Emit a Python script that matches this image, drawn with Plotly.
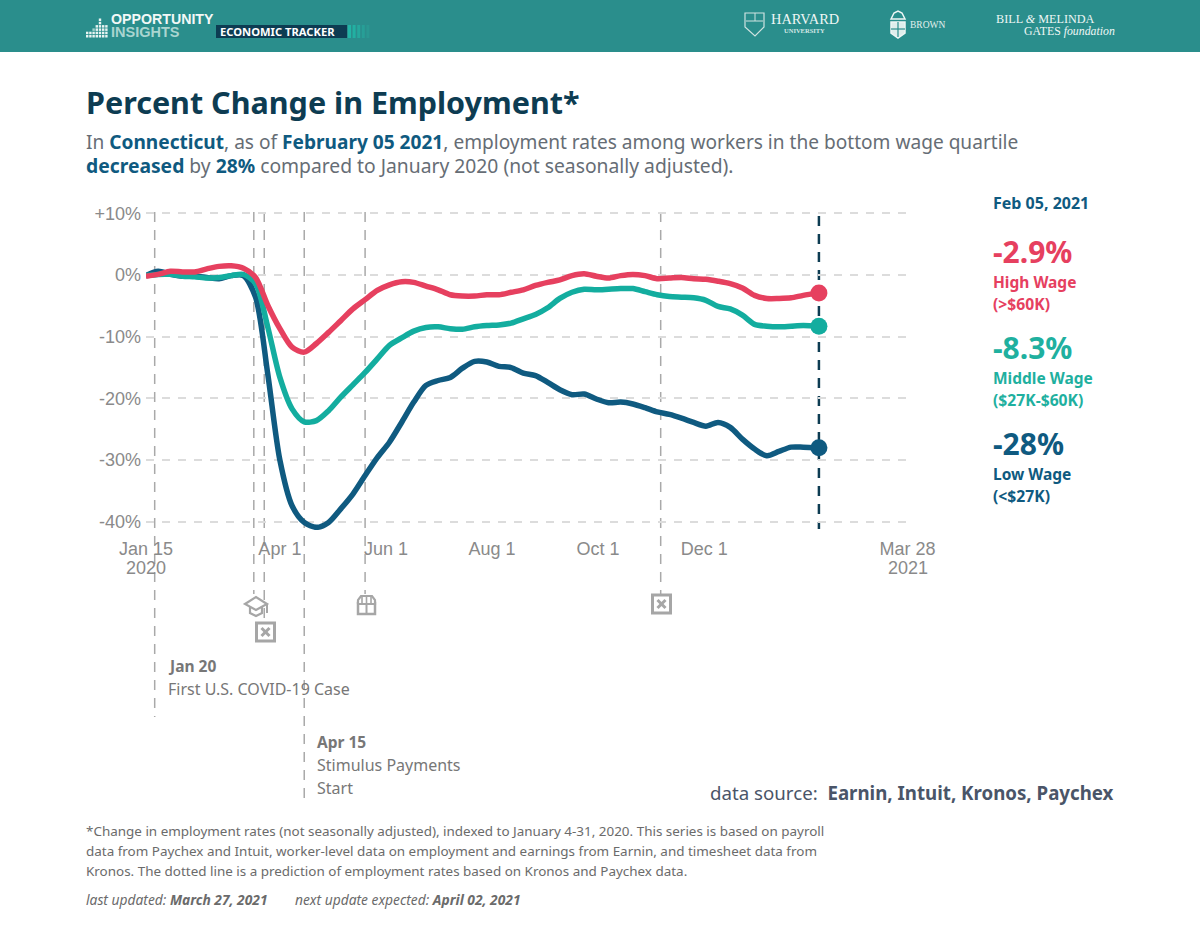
import plotly.graph_objects as go
import pandas as pd

W, H = 1200, 946
start = pd.Timestamp("2020-01-15")
week_steps = list(range(0, 55))
dates = [start + pd.Timedelta(days=7 * k) for k in week_steps] + [pd.Timestamp("2021-02-05")]

high_wage = [-0.2, 0.1, 0.6, 0.5, 0.5, 1.0, 1.4, 1.5, 1.1, -0.4, -4.9, -8.7, -11.7, -12.5, -11.1, -9.3, -7.4, -5.5, -4.0,
             -2.5, -1.6, -1.1, -1.2, -1.8, -2.4, -3.2, -3.4, -3.4, -3.2, -3.2, -2.8, -2.4, -1.7, -1.2, -0.8, -0.1, 0.2,
             -0.2, -0.5, -0.1, 0.1, -0.1, -0.6, -0.5, -0.4, -0.6, -0.7, -1.0, -1.4, -2.1, -3.3, -3.8, -3.8, -3.7, -3.3, -2.9]
middle_wage = [-0.1, 0.1, 0.1, -0.2, -0.3, -0.5, -0.4, -0.1, 0.1, -1.4, -8.4, -16.6, -21.7, -23.8, -23.6, -22.0, -19.8,
               -17.8, -15.8, -13.6, -11.4, -10.2, -9.1, -8.5, -8.4, -8.7, -8.8, -8.4, -8.2, -8.1, -7.8, -7.1, -6.4, -5.3,
               -3.8, -2.8, -2.3, -2.4, -2.3, -2.2, -2.2, -2.7, -3.2, -3.5, -3.6, -3.7, -4.1, -5.1, -5.5, -6.5, -8.0, -8.3,
               -8.4, -8.3, -8.2, -8.3]
low_wage = [-0.1, 0.6, 0.1, -0.2, -0.2, -0.4, -0.6, -0.1, -0.1, -3.6, -16.0, -30.0, -37.4, -40.1, -40.9, -40.1, -37.9,
            -35.5, -32.5, -29.6, -27.1, -23.9, -20.6, -17.9, -17.1, -16.6, -15.1, -14.0, -14.1, -14.8, -15.0, -15.9,
            -16.3, -17.4, -18.6, -19.4, -19.3, -20.1, -20.7, -20.6, -20.9, -21.5, -22.2, -22.6, -23.2, -23.9, -24.5,
            -23.9, -24.7, -26.6, -28.2, -29.3, -28.6, -27.9, -27.9, -28.0]

y_ticks = [10, 0, -10, -20, -30, -40]
y_labels = ["+10%", "0%", "-10%", "-20%", "-30%", "-40%"]
x_ticks = ["2020-01-15", "2020-04-01", "2020-06-01", "2020-08-01", "2020-10-01", "2020-12-01", "2021-03-28"]
x_labels = ["Jan 15", "Apr 1", "Jun 1", "Aug 1", "Oct 1", "Dec 1", "Mar 28"]
year_ticks = ["2020-01-15", "2021-03-28"]
year_labels = ["2020", "2021"]
event_dates = ["2020-01-20", "2020-03-17", "2020-03-23", "2020-04-15", "2020-05-20", "2020-11-06"]
event_ends = [717, 594, 620, 805, 594, 594]

RED, TEAL, NAVY = "#e6405f", "#13ad9f", "#0f5a80"
HEAD, BAND = "#2a8e8c", "#0d3c52"
FONT = "Noto Sans"
BLUE = "#0f5a80"
TICK = "#8a8a8a"


def fx(x):
    return x / W


def fy(y):
    return 1 - y / H


def path(points, close=False):
    s = "M " + " L ".join(f"{fx(x):.5f},{fy(y):.5f}" for x, y in points)
    return s + (" Z" if close else "")


shapes, annos = [], []


def rect(x0, y0, x1, y1, fill, layer="below", line=None, lw=0):
    shapes.append(dict(type="rect", xref="paper", yref="paper", x0=fx(x0), x1=fx(x1), y0=fy(y0), y1=fy(y1),
                       fillcolor=fill, line=dict(color=line or fill, width=lw), layer=layer))


def poly(pts, color, width=2, close=False, fill=None):
    shapes.append(dict(type="path", xref="paper", yref="paper", path=path(pts, close),
                       line=dict(color=color, width=width), fillcolor=fill or "rgba(0,0,0,0)", layer="above"))


def text(x, y, s, size, color="#555", anchor="left", family=FONT):
    annos.append(dict(xref="paper", yref="paper", x=fx(x), y=fy(y), text=s, showarrow=False, xanchor=anchor,
                      yanchor="middle", align=anchor, font=dict(size=size, color=color, family=family),
                      borderpad=0, borderwidth=0))


# header band
rect(0, 0, W, 52, HEAD)
for c, n in enumerate([2, 2, 3, 4, 6, 4, 4]):
    for r in range(n):
        rect(86 + c * 3.2, 37.5 - r * 3.3, 88.4 + c * 3.2, 35 - r * 3.3, "#e8f4f2" if c > 2 or r < 2 else "#a5d3cd", "above")
text(111, 19, "<b>OPPORTUNITY</b>", 14.2, "#f2f8f7", family="Liberation Sans")
text(111, 32, "<b>INSIGHTS</b>", 14.5, "#a9d5d0", family="Liberation Sans")
rect(216, 25, 347, 38, BAND, "above")
text(220, 31.5, "<b>ECONOMIC TRACKER</b>", 11.2, "#ffffff")
for i, col in enumerate(["#22b5a6", "#22b0a2", "#25a89d", "#279f97", "#299892"]):
    rect(348 + i * 4.6, 25, 351 + i * 4.6, 38, col, "above")
# Harvard / Brown / Gates
poly([(745, 13), (764, 13), (764, 27), (755, 36), (745, 27)], "#cfe3e1", 1.2, True)
poly([(746, 21), (763, 21)], "#cfe3e1", 1)
poly([(755, 13), (755, 21)], "#cfe3e1", 1)
text(771, 19, "HARVARD", 14.4, "#eef6f5", family="Liberation Serif")
text(805, 30, "<b>UNIVERSITY</b>", 6.5, "#d5e8e6", "center", "Liberation Serif")
poly([(891, 22), (905, 22), (905, 33), (898, 38), (891, 33)], "#eef6f5", 1.5, True, "#dfeeec")
poly([(891, 19), (894, 13), (898, 11), (902, 13), (905, 19)], "#eef6f5", 1.5, True)
poly([(898, 22), (898, 37)], HEAD, 1.2)
poly([(891, 29), (905, 29)], HEAD, 1.2)
text(910, 25, "BROWN", 9.5, "#e3f0ee", family="Liberation Serif")
text(996, 19, "BILL <i>&amp;</i> MELINDA", 12.2, "#eef6f5", family="Liberation Serif")
text(1024, 31, "GATES <i>foundation</i>", 11.8, "#eef6f5", family="Liberation Serif")

# headings
text(86, 102, "<b>Percent Change in Employment*</b>", 30.5, "#0d3c52")
C = f'<b style="color:{BLUE}"><span style="color:{BLUE}">'
E = "</span></b>"
text(86, 142, f"In {C}Connecticut{E}, as of {C}February 05 2021{E}, employment rates among workers in the bottom wage quartile", 19.1, "#666d75")
text(86, 165.5, f"{C}decreased{E} by {C}28%{E} compared to January 2020 (not seasonally adjusted).", 19.3, "#666d75")

# event lines
for d, end in zip(event_dates, event_ends):
    shapes.append(dict(type="line", xref="x", yref="paper", x0=d, x1=d, y0=fy(212), y1=fy(end),
                       line=dict(color="#a9a9a9", width=1.5, dash="10px,8px"), layer="below"))
shapes.append(dict(type="line", xref="x", yref="paper", x0=dates[-1], x1=dates[-1], y0=fy(216), y1=fy(529),
                   line=dict(color=BAND, width=2.5, dash="10px,8px"), layer="below"))

# year labels under the first and last ticks
for d, s in zip(year_ticks, year_labels):
    annos.append(dict(xref="x", yref="paper", x=d, y=fy(568), text=s, showarrow=False, xanchor="center",
                      yanchor="middle", font=dict(size=18, color=TICK, family="Liberation Sans")))

# icons
ICON = "#a6a6a6"


def xbox(cx, cy):
    rect(cx - 9, cy - 9, cx + 9, cy + 9, "#ffffff", "above", ICON, 3)
    poly([(cx - 4, cy - 4), (cx + 4, cy + 4)], ICON, 3)
    poly([(cx + 4, cy - 4), (cx - 4, cy + 4)], ICON, 3)


xbox(265.5, 632)
xbox(661.5, 604)
poly([(245, 604), (256, 597), (267, 604), (256, 610)], ICON, 2.2, True, "#ffffff")
poly([(250, 607), (250, 613), (256, 616), (262, 613), (262, 607)], ICON, 2.2)
poly([(267, 604), (267, 613)], ICON, 2)
rect(358, 603, 375, 614, "#ffffff", "above", ICON, 2.5)
poly([(366.5, 604), (366.5, 614)], ICON, 2)
poly([(358, 604), (358, 600), (361, 596), (372, 596), (375, 600), (375, 604), (358, 604)], ICON, 2.2, False, "#ffffff")
for px_ in (362, 366.5, 371):
    poly([(px_, 597), (px_, 603)], ICON, 1.6)

# event captions
GREY = "#777777"
text(168, 666, "<b>Jan 20</b>", 15.5, GREY)
text(168, 689, "First U.S. COVID-19 Case", 16, GREY)
text(317, 742, "<b>Apr 15</b>", 15.5, GREY)
text(317, 765, "Stimulus Payments", 16, GREY)
text(317, 788, "Start", 16, GREY)

# right panel
text(993, 203, "<b>Feb 05, 2021</b>", 16, BLUE)
for top, val, name, rng, col in [(251, "-2.9%", "High Wage", "(&gt;$60K)", RED),
                                 (347, "-8.3%", "Middle Wage", "($27K-$60K)", "#1fb09f"),
                                 (443, "-28%", "Low Wage", "(&lt;$27K)", BLUE)]:
    text(993, top, f"<b>{val}</b>", 30, col)
    text(993, top + 31, f"<b>{name}</b>", 15.5, col)
    text(993, top + 53, f"<b>{rng}</b>", 15.7, col)

# footer
text(1114, 792, 'data source:  <b>Earnin, Intuit, Kronos, Paychex</b>', 18.7, "#4a5568", "right")
FOOT = "#6b6b6b"
text(86, 831, "*Change in employment rates (not seasonally adjusted), indexed to January 4-31, 2020. This series is based on payroll", 13.45, FOOT)
text(86, 851, "data from Paychex and Intuit, worker-level data on employment and earnings from Earnin, and timesheet data from", 13.45, FOOT)
text(86, 871, "Kronos. The dotted line is a prediction of employment rates based on Kronos and Paychex data.", 13.45, FOOT)
text(86, 899, "<i>last updated: <b>March 27, 2021</b></i>", 13.8, FOOT)
text(295, 899, "<i>next update expected: <b>April 02, 2021</b></i>", 13.8, FOOT)

fig = go.Figure()
for name, vals, col in [("Low Wage", low_wage, NAVY), ("Middle Wage", middle_wage, TEAL), ("High Wage", high_wage, RED)]:
    fig.add_trace(go.Scatter(x=dates, y=vals, mode="lines", name=name, cliponaxis=False,
                             line=dict(color=col, width=5.5, shape="spline", smoothing=0.8)))
    fig.add_trace(go.Scatter(x=[dates[-1]], y=[vals[-1]], mode="markers", cliponaxis=False, showlegend=False,
                             marker=dict(color=col, size=17, line=dict(width=0))))

PX_PER_PCT = 6.17
y_at = lambda py: (275 - py) / PX_PER_PCT
fig.update_layout(
    width=W, height=H, margin=dict(l=0, r=0, t=0, b=0), paper_bgcolor="white", plot_bgcolor="white",
    showlegend=False, shapes=shapes, annotations=annos,
    xaxis=dict(domain=[fx(146), fx(907.6)], range=["2020-01-15", "2021-03-28"], type="date", tickmode="array",
               tickvals=x_ticks, ticktext=x_labels, showgrid=False, zeroline=False, showline=False, ticks="",
               automargin=False, tickfont=dict(family="Liberation Sans", size=18, color=TICK), ticklabelstandoff=6),
    yaxis=dict(domain=[fy(530), fy(205)], range=[y_at(530), y_at(205)], tickmode="array", tickvals=y_ticks,
               ticktext=y_labels, showgrid=True, gridcolor="#dcdcdc", griddash="8px,8px", gridwidth=1.5,
               zeroline=False, showline=False, ticks="", automargin=False,
               tickfont=dict(family="Liberation Sans", size=18, color=TICK), ticklabelstandoff=4),
)
fig.write_html("out.html", config={"displayModeBar": False}, post_script="document.body.style.margin='0';")
